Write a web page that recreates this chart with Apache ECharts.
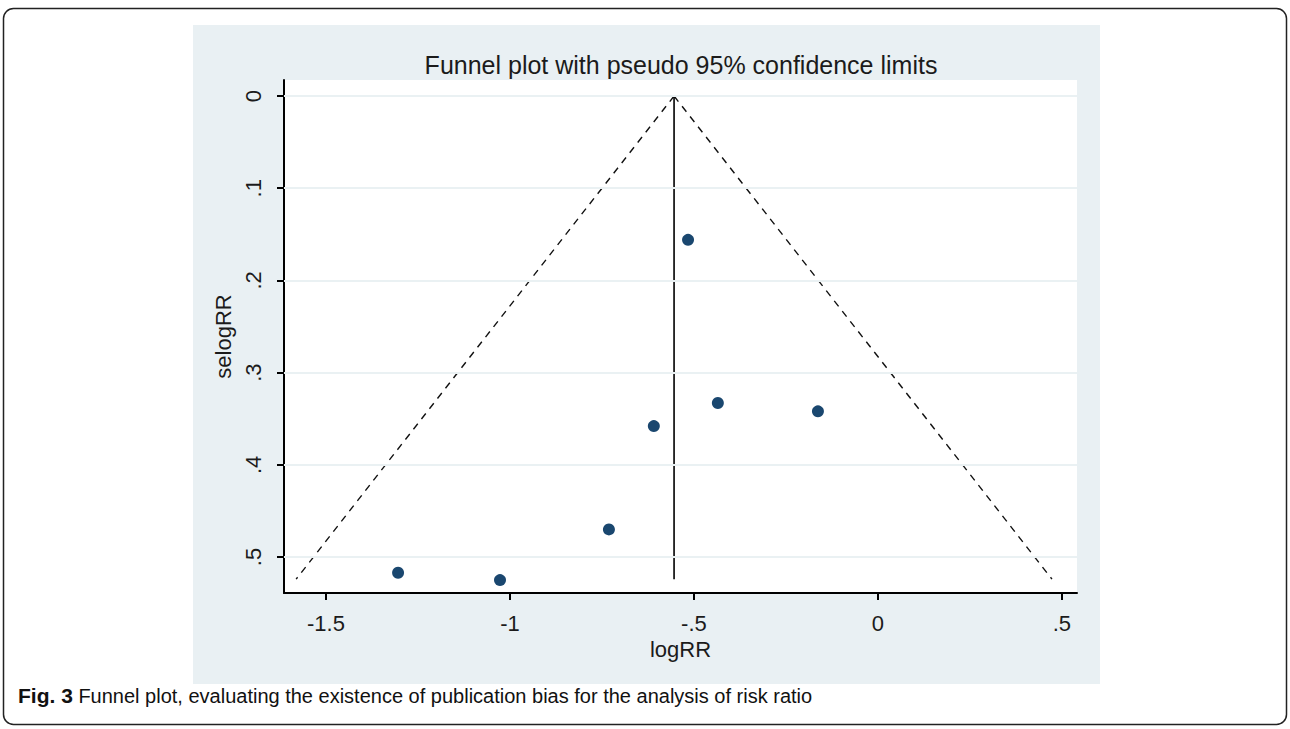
<!DOCTYPE html>
<html>
<head>
<meta charset="utf-8">
<script src="https://cdn.jsdelivr.net/npm/echarts@6/dist/echarts.min.js"></script>
<style>
html,body{margin:0;padding:0;background:#fff;}
#chart{width:1290px;height:729px;}
</style>
</head>
<body>
<div id="chart"></div>
<script>
// Study estimates
const logRR = [-0.516, -0.435, -0.163, -0.609, -0.731, -1.304, -1.027];
const selogRR = [0.156, 0.333, 0.342, 0.358, 0.470, 0.517, 0.525];
// Pooled estimate and pseudo 95% confidence limit lines
const pooledLine = [[-0.554, 0], [-0.554, 0.524]];
const lowerLimit = [[-0.554, 0], [-1.581, 0.524]];
const upperLimit = [[-0.554, 0], [0.473, 0.524]];
// Tick values and labels
const xTicks = [-1.5, -1, -0.5, 0, 0.5];
const xTickLabels = ['-1.5', '-1', '-.5', '0', '.5'];
const yTicks = [0, 0.1, 0.2, 0.3, 0.4, 0.5];
const yTickLabels = ['0', '.1', '.2', '.3', '.4', '.5'];

const titleText = 'Funnel plot with pseudo 95% confidence limits';
const captionBold = 'Fig. 3';
const captionText = ' Funnel plot, evaluating the existence of publication bias for the analysis of risk ratio';

const chart = echarts.init(document.getElementById('chart'), null, {renderer: 'svg'});
const font = 'Liberation Sans, Arial, sans-serif';
const points = logRR.map((x, i) => [x, selogRR[i]]);

chart.setOption({
  animation: false,
  backgroundColor: '#ffffff',
  graphic: [
    {type: 'rect', z: -10, silent: true, shape: {x: 3.5, y: 8.5, width: 1283, height: 716, r: 10},
     style: {fill: '#ffffff', stroke: '#222', lineWidth: 1.5}},
    {type: 'rect', z: -5, silent: true, shape: {x: 193, y: 25, width: 907, height: 659},
     style: {fill: '#e9f0f3'}},
    {type: 'text', left: 18, top: 685, z: 5, style: {
      text: '{b|' + captionBold + '}{n|' + captionText + '}',
      rich: {
        b: {fontFamily: 'Liberation Sans Narrow, Liberation Sans, sans-serif', fontWeight: 'bold', fontSize: 21, fill: '#111'},
        n: {fontFamily: 'Liberation Sans Narrow, Liberation Sans, sans-serif', fontSize: 20, fill: '#111'}
      }
    }}
  ],
  title: {
    text: titleText, left: 676, top: 47, textAlign: 'center',
    textStyle: {fontFamily: font, fontSize: 25, fontWeight: 'normal', color: '#1b1b1b'}
  },
  grid: {left: 284, top: 80, right: 213, bottom: 136, show: true, backgroundColor: '#ffffff', borderWidth: 0},
  xAxis: {
    type: 'value', min: -1.614, max: 0.541,
    name: 'logRR', nameLocation: 'middle', nameGap: 38,
    nameTextStyle: {fontFamily: font, fontSize: 22, color: '#1b1b1b'},
    axisLine: {show: true, onZero: false, lineStyle: {color: '#000', width: 2}},
    axisTick: {show: true, length: 7, customValues: xTicks, lineStyle: {color: '#000', width: 2}},
    axisLabel: {customValues: xTicks, margin: 19, fontFamily: font, fontSize: 22, color: '#1b1b1b',
      formatter: v => xTickLabels[xTicks.findIndex(t => Math.abs(t - v) < 1e-9)] ?? ''},
    splitLine: {show: false}
  },
  yAxis: {
    type: 'value', inverse: true, min: -0.0174, max: 0.539,
    name: 'selogRR', nameLocation: 'middle', nameGap: 44, nameRotate: 90,
    nameTextStyle: {fontFamily: font, fontSize: 22, color: '#1b1b1b'},
    axisLine: {show: true, onZero: false, lineStyle: {color: '#000', width: 2}},
    axisTick: {show: true, length: 7, customValues: yTicks, lineStyle: {color: '#000', width: 2}},
    axisLabel: {customValues: yTicks, rotate: 90, margin: 20, fontFamily: font, fontSize: 22, color: '#1b1b1b',
      formatter: v => yTickLabels[yTicks.findIndex(t => Math.abs(t - v) < 1e-9)] ?? ''},
    splitLine: {show: false}
  },
  series: [
    {
      type: 'line', data: [], silent: true,
      markLine: {silent: true, symbol: 'none', label: {show: false},
        lineStyle: {color: '#eaf1f3', width: 2, type: 'solid'},
        data: yTicks.map(v => ({yAxis: v}))}
    },
    {type: 'line', data: lowerLimit, showSymbol: false, symbol: 'none', silent: true,
      lineStyle: {color: '#111', width: 1.4, type: [7, 6]}},
    {type: 'line', data: upperLimit, showSymbol: false, symbol: 'none', silent: true,
      lineStyle: {color: '#111', width: 1.4, type: [7, 6]}},
    {type: 'line', data: pooledLine, showSymbol: false, symbol: 'none', silent: true,
      lineStyle: {color: '#000', width: 1.6}},
    {type: 'scatter', data: points, symbol: 'circle', symbolSize: 12,
      itemStyle: {color: '#1a476f', opacity: 1}, z: 5}
  ]
});
</script>
</body>
</html>
